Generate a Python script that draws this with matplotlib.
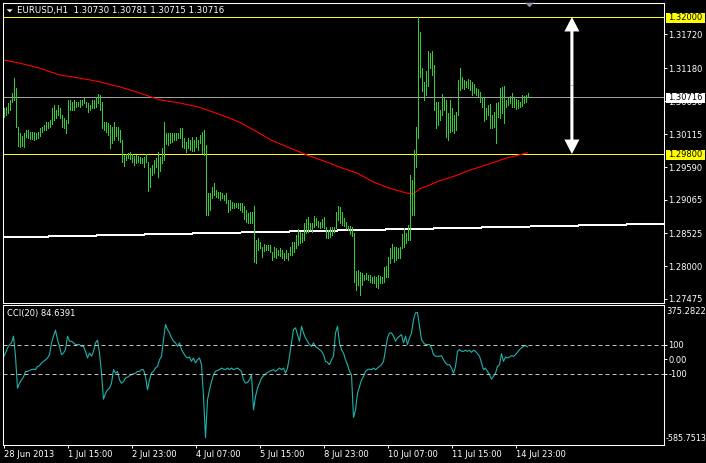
import numpy as np
import matplotlib
matplotlib.use('Agg')
from matplotlib import pyplot as plt
from matplotlib.patches import FancyArrowPatch, Polygon, Rectangle
import matplotlib.transforms as mtransforms

W, H = 706, 463

# EURUSD H1 bars, highs and lows (bar 0 = 28 Jun 2013)
high = [1.3054, 1.3056, 1.3062, 1.3067, 1.3078, 1.3102, 1.3086, 1.3023, 1.3014, 1.3009,
        1.3014, 1.3019, 1.3019, 1.3015, 1.3015, 1.3015, 1.3014, 1.3015, 1.3022, 1.3023,
        1.3027, 1.3031, 1.3031, 1.3035, 1.3054, 1.3059, 1.3051, 1.3059, 1.3054, 1.3043,
        1.3038, 1.3035, 1.3067, 1.3067, 1.3063, 1.3067, 1.3063, 1.3063, 1.3067, 1.3067,
        1.3070, 1.3063, 1.3062, 1.3059, 1.3067, 1.3067, 1.3072, 1.3076, 1.3075, 1.3063,
        1.3031, 1.3031, 1.3030, 1.3027, 1.3023, 1.3031, 1.3023, 1.3023, 1.3019, 1.3002,
        1.2978, 1.2980, 1.2982, 1.2983, 1.2980, 1.2977, 1.2978, 1.2977, 1.2975, 1.2974,
        1.2975, 1.2980, 1.2967, 1.2958, 1.2962, 1.2970, 1.2974, 1.2983, 1.2975, 1.2990,
        1.3031, 1.3014, 1.3014, 1.3014, 1.3014, 1.3014, 1.3014, 1.3014, 1.3022, 1.3022,
        1.3006, 1.2999, 1.3006, 1.3002, 1.3007, 1.3002, 1.3007, 1.3002, 1.3010, 1.3015,
        1.3019, 1.2995, 1.2917, 1.2917, 1.2927, 1.2933, 1.2922, 1.2919, 1.2919, 1.2917,
        1.2914, 1.2917, 1.2906, 1.2906, 1.2903, 1.2901, 1.2901, 1.2901, 1.2901, 1.2901,
        1.2896, 1.2890, 1.2885, 1.2887, 1.2887, 1.2896, 1.2842, 1.2845, 1.2839, 1.2831,
        1.2836, 1.2834, 1.2834, 1.2834, 1.2823, 1.2831, 1.2829, 1.2826, 1.2829, 1.2826,
        1.2821, 1.2826, 1.2821, 1.2831, 1.2839, 1.2839, 1.2850, 1.2860, 1.2855, 1.2853,
        1.2869, 1.2876, 1.2879, 1.2869, 1.2869, 1.2880, 1.2877, 1.2872, 1.2871, 1.2876,
        1.2879, 1.2863, 1.2858, 1.2863, 1.2863, 1.2863, 1.2887, 1.2896, 1.2895, 1.2887,
        1.2877, 1.2871, 1.2864, 1.2864, 1.2863, 1.2853, 1.2792, 1.2794, 1.2790, 1.2789,
        1.2786, 1.2789, 1.2786, 1.2786, 1.2782, 1.2784, 1.2782, 1.2786, 1.2784, 1.2782,
        1.2798, 1.2800, 1.2815, 1.2829, 1.2836, 1.2831, 1.2831, 1.2829, 1.2831, 1.2852,
        1.2861, 1.2853, 1.2866, 1.2946, 1.2938, 1.2986, 1.3023, 1.3200, 1.3176, 1.3118,
        1.3096, 1.3113, 1.3145, 1.3142, 1.3145, 1.3123, 1.3063, 1.3063, 1.3051, 1.3076,
        1.3070, 1.3067, 1.3046, 1.3067, 1.3054, 1.3043, 1.3047, 1.3099, 1.3118, 1.3104,
        1.3099, 1.3097, 1.3100, 1.3099, 1.3096, 1.3092, 1.3086, 1.3084, 1.3080, 1.3072,
        1.3070, 1.3054, 1.3059, 1.3060, 1.3043, 1.3047, 1.3062, 1.3063, 1.3086, 1.3088,
        1.3089, 1.3067, 1.3070, 1.3073, 1.3078, 1.3070, 1.3068, 1.3067, 1.3063, 1.3075,
        1.3073, 1.3075, 1.3078]

low = [1.3039, 1.3043, 1.3046, 1.3051, 1.3063, 1.3067, 1.3023, 1.2993, 1.2991, 1.2993,
       1.2991, 1.3007, 1.3006, 1.3004, 1.3004, 1.3002, 1.3004, 1.3006, 1.3009, 1.3015,
       1.3019, 1.3019, 1.3022, 1.3023, 1.3028, 1.3035, 1.3038, 1.3043, 1.3038, 1.3023,
       1.3022, 1.3014, 1.3030, 1.3051, 1.3051, 1.3051, 1.3055, 1.3057, 1.3055, 1.3059,
       1.3062, 1.3055, 1.3047, 1.3051, 1.3054, 1.3054, 1.3055, 1.3062, 1.3051, 1.3022,
       1.3019, 1.3015, 1.3010, 1.2990, 1.2998, 1.3002, 1.3009, 1.3002, 1.2999, 1.2967,
       1.2961, 1.2970, 1.2974, 1.2972, 1.2967, 1.2962, 1.2966, 1.2967, 1.2966, 1.2966,
       1.2959, 1.2967, 1.2921, 1.2927, 1.2946, 1.2950, 1.2959, 1.2943, 1.2953, 1.2966,
       1.2970, 1.2996, 1.2995, 1.2998, 1.2999, 1.3002, 1.3002, 1.3006, 1.3006, 1.2991,
       1.2990, 1.2983, 1.2990, 1.2986, 1.2985, 1.2985, 1.2991, 1.2986, 1.2998, 1.2982,
       1.2978, 1.2882, 1.2882, 1.2890, 1.2909, 1.2914, 1.2911, 1.2909, 1.2906, 1.2909,
       1.2906, 1.2901, 1.2887, 1.2890, 1.2893, 1.2893, 1.2895, 1.2893, 1.2890, 1.2887,
       1.2876, 1.2871, 1.2869, 1.2869, 1.2869, 1.2807, 1.2805, 1.2826, 1.2829, 1.2815,
       1.2824, 1.2826, 1.2826, 1.2823, 1.2810, 1.2815, 1.2813, 1.2818, 1.2816, 1.2813,
       1.2810, 1.2813, 1.2810, 1.2818, 1.2818, 1.2823, 1.2829, 1.2834, 1.2837, 1.2839,
       1.2842, 1.2853, 1.2855, 1.2858, 1.2855, 1.2863, 1.2866, 1.2863, 1.2861, 1.2863,
       1.2861, 1.2845, 1.2845, 1.2847, 1.2850, 1.2855, 1.2861, 1.2874, 1.2869, 1.2866,
       1.2864, 1.2860, 1.2858, 1.2852, 1.2848, 1.2774, 1.2762, 1.2770, 1.2754, 1.2770,
       1.2778, 1.2779, 1.2778, 1.2774, 1.2773, 1.2773, 1.2766, 1.2765, 1.2773, 1.2773,
       1.2774, 1.2782, 1.2782, 1.2805, 1.2813, 1.2807, 1.2810, 1.2813, 1.2813, 1.2829,
       1.2831, 1.2837, 1.2842, 1.2842, 1.2882, 1.2882, 1.2959, 1.3006, 1.3104, 1.3081,
       1.3067, 1.3075, 1.3089, 1.3118, 1.3107, 1.3051, 1.3022, 1.3027, 1.3035, 1.3043,
       1.3051, 1.3007, 1.3002, 1.3015, 1.3017, 1.3014, 1.3019, 1.3043, 1.3083, 1.3086,
       1.3084, 1.3088, 1.3086, 1.3083, 1.3075, 1.3078, 1.3075, 1.3072, 1.3063, 1.3055,
       1.3033, 1.3036, 1.3043, 1.3022, 1.3022, 1.3023, 1.2998, 1.3039, 1.3038, 1.3046,
       1.3030, 1.3055, 1.3059, 1.3062, 1.3055, 1.3055, 1.3052, 1.3054, 1.3055, 1.3057,
       1.3062, 1.3063, 1.3072]

# CCI(20) per bar
cci = [15, 42, 77, 100, 112, 158, 20, -199, -165, -142,
       -123, -84, -84, -77, -72, -68, -72, -50, -45, -26,
       -15, -4, 8, 31, 112, 158, 199, 134, 88, 31,
       42, 66, 158, 123, 123, 112, 100, 100, 100, 88,
       88, 54, 8, 42, 20, 54, 112, 130, 42, -96,
       -275, -234, -210, -199, -165, -72, -96, -84, -142, -165,
       -153, -130, -123, -114, -107, -100, -96, -84, -84, -72,
       -72, -118, -210, -142, -96, -84, -61, -50, -4, 20,
       134, 238, 204, 180, 146, 123, 112, 88, 112, 66,
       42, 20, 8, 15, -15, 8, -26, -4, 8, -38,
       -256, -540, -280, -210, -153, -107, -84, -77, -72, -61,
       -68, -72, -61, -72, -61, -72, -66, -61, -72, -84,
       -142, -165, -160, -142, -107, -348, -256, -199, -165, -130,
       -114, -100, -91, -84, -77, -72, -84, -72, -61, -72,
       -61, -96, -61, 20, 112, 204, 215, 169, 123, 226,
       180, 146, 123, 100, 88, 112, 88, 77, 66, 54,
       31, -15, -22, -38, -4, 20, 180, 226, 112, 66,
       42, -4, -38, -84, -107, -400, -348, -234, -188, -142,
       -118, -84, -72, -68, -72, -61, -72, -61, -50, -38,
       -15, 66, 146, 180, 180, 158, 123, 146, 158, 169,
       112, 158, 100, 146, 180, 272, 318, 320, 226, 134,
       112, 100, 100, 100, 77, 31, 20, 20, 20, 24,
       -4, -26, -38, -38, -61, -96, -50, 54, 66, 54,
       54, 61, 54, 61, 47, 61, 54, 38, 20, -26,
       -72, -61, -84, -107, -137, -118, -96, -50, -38, 38,
       -15, 15, 8, 15, 24, 20, 31, 47, 66, 77,
       88, 93, 84.6391]

# red moving average, read every few bars
ma_bar = [0, 8, 18, 28, 38, 48, 58, 68, 78, 88, 98, 105, 112, 118, 126, 134, 143,
          152, 160, 168, 177, 185, 193, 202, 205, 208, 213, 218, 226, 233, 241, 250, 262]
ma_val = [1.3131, 1.3126, 1.3118, 1.3107, 1.3102, 1.3096, 1.3088, 1.3078, 1.3067,
          1.3062, 1.3055, 1.3047, 1.3039, 1.3031, 1.3017, 1.3002, 1.2990, 1.2978,
          1.2969, 1.2959, 1.2949, 1.2935, 1.2925, 1.2917, 1.2916, 1.2924, 1.2930,
          1.2937, 1.2945, 1.2954, 1.2962, 1.2972, 1.2982]

price_ticks = [1.31720, 1.31180, 1.30650, 1.30115, 1.29590, 1.29065, 1.28525, 1.28000, 1.27475]
hlines_yellow = [1.32000, 1.29800]
bid = 1.30716
trend = ([0, 330], [1.2846, 1.2868])
arrow_bar = 284.2

date_bars = [0, 32, 64, 96, 128, 160, 192, 224, 256]
date_labels = ['28 Jun 2013', '1 Jul 15:00', '2 Jul 23:00', '4 Jul 07:00', '5 Jul 15:00',
               '8 Jul 23:00', '10 Jul 07:00', '11 Jul 15:00', '14 Jul 23:00']
cci_max, cci_min = 375.2822, -585.7513

GREEN = '#32cd32'
plt.rcParams['font.family'] = 'DejaVu Sans'
plt.rcParams['font.size'] = 6


def px(x, y):
    return x / W, 1 - y / H


fig = plt.figure(figsize=(W / 100, H / 100), dpi=100, facecolor='black')
ax1 = fig.add_axes([2.5 / W, 1 - 302.5 / H, 661 / W, 300 / H], facecolor='black')
ax2 = fig.add_axes([2.5 / W, 1 - 444.5 / H, 661 / W, 140 / H], facecolor='black')

for ax in (ax1, ax2):
    # bars sit on pixel centres, 2 px apart
    ax.set_xlim(-0.5, 330.0)
    for s in ax.spines.values():
        s.set_color('white')
        s.set_linewidth(0.75)
    ax.yaxis.tick_right()
    ax.tick_params(axis='y', colors='white', length=2.2, width=0.7, pad=1.3, labelsize=6)

idx = np.arange(len(high))

# --- price panel
ax1.set_ylim(1.27415, 1.32233)
ax1.set_xticks([])
ax1.set_yticks(price_ticks)
ax1.set_yticklabels(['%.5f' % p for p in price_ticks])

ax1.plot(trend[0], trend[1], color='white', lw=0.72, antialiased=False)
ax1.axhline(bid, color='#a0a0a0', lw=0.72)
for lv in hlines_yellow:
    ax1.axhline(lv, color='yellow', lw=0.72)
ax1.plot(ma_bar, ma_val, color='red', lw=0.8)
ax1.vlines(idx, low, high, colors=GREEN, lw=0.72, antialiased=False, zorder=3)

mid = sum(hlines_yellow) / 2
for end in hlines_yellow:
    ax1.add_patch(FancyArrowPatch((arrow_bar, mid), (arrow_bar, end),
                                  arrowstyle='simple,head_length=10.4,head_width=10.8,tail_width=2.2',
                                  mutation_scale=1, lw=0, color='white', zorder=5,
                                  shrinkA=0, shrinkB=0))

# price label boxes on the axis
bt = mtransforms.blended_transform_factory(fig.transFigure, ax1.transData)
box_h = 10 * 0.0001606
for lv, fc in [(hlines_yellow[0], 'yellow'), (hlines_yellow[1], 'yellow'), (bid, 'white')]:
    fig.add_artist(Rectangle((666 / W, lv - box_h / 2 - 0.0001), 39 / W, box_h,
                             transform=bt, facecolor=fc, edgecolor='none', zorder=10))
    fig.text(667.6 / W, lv - 0.0001, '%.5f' % lv, transform=bt, color='black',
             va='center', ha='left', fontsize=6, zorder=11)

# header
fig.add_artist(Polygon([px(6.7, 9.3), px(12.7, 9.3), px(9.7, 12.3)], closed=True,
                       facecolor='white', edgecolor='none', transform=fig.transFigure))
fig.text(*px(17, 10.5), 'EURUSD,H1  1.30730 1.30781 1.30715 1.30716', color='white',
         va='center', ha='left', fontsize=6.2)
fig.add_artist(Polygon([px(525, 2.7), px(534, 2.7), px(529.5, 7.3)], closed=True,
                       facecolor='#8a96a8', edgecolor='none', transform=fig.transFigure))

# --- CCI panel
ax2.set_ylim(cci_min, cci_max)
ax2.plot(idx, cci, color='#20b2aa', lw=0.8)
for lv in (100, -100):
    ax2.axhline(lv, color='#c0c0c0', lw=0.72, dashes=(4, 3))
ax2.set_yticks([100, 0, -100])
ax2.set_yticklabels(['100', '0.00', '-100'])
ax2.set_xticks(date_bars)
ax2.set_xticklabels(date_labels, ha='left')
ax2.tick_params(axis='x', colors='white', length=2.2, width=0.7, pad=2.0, labelsize=6)
fig.text(*px(666.7, 311.7), '%.4f' % cci_max, color='white', va='center', ha='left', fontsize=6)
fig.text(*px(665.5, 438.3), '%.4f' % cci_min, color='white', va='center', ha='left', fontsize=5.8)
fig.text(*px(7.3, 313.5), 'CCI(20) %.4f' % cci[-1], color='white', va='center', ha='left', fontsize=6)

fig.savefig('out.png', dpi=100, facecolor='black')
